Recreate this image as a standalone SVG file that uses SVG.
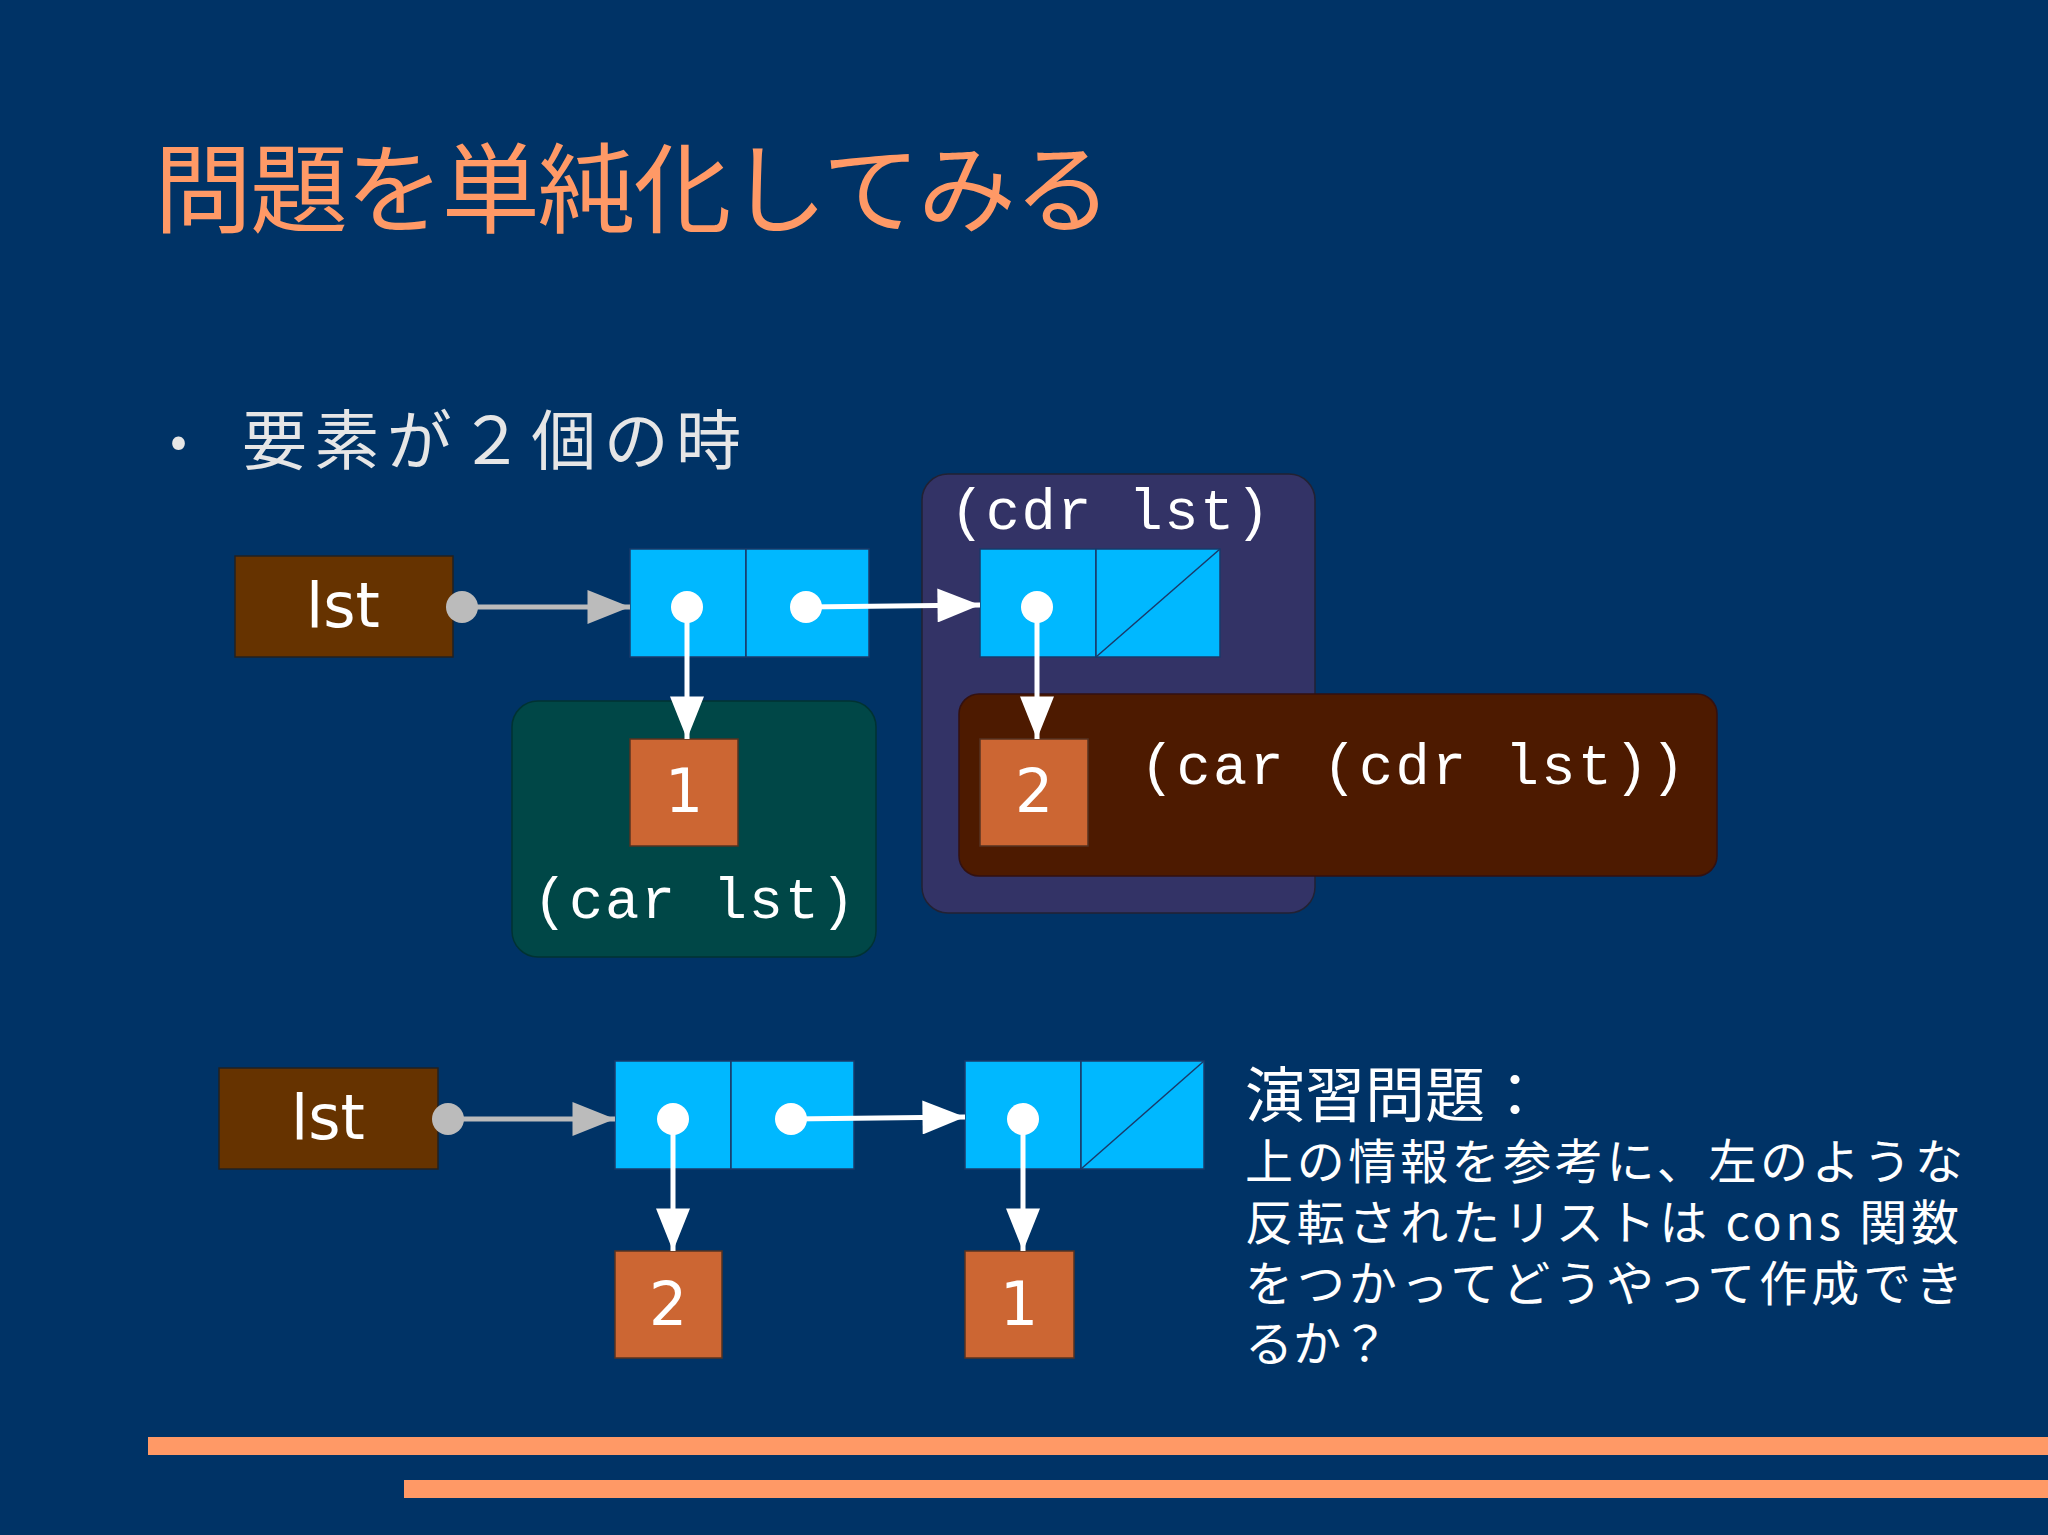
<svg xmlns="http://www.w3.org/2000/svg" width="2048" height="1535" viewBox="0 0 2048 1535">
<style>
.jp{font-family:"Noto Sans CJK JP","Noto Sans",sans-serif}
.mono{font-family:"Liberation Mono","DejaVu Sans Mono",monospace;fill:#fff}
.cell{fill:#00b8ff;stroke:#1a3a6a;stroke-width:1.5}
.val{fill:#cc6633;stroke:#553322;stroke-width:1.5}
.vt{font-family:"DejaVu Sans",sans-serif;font-size:60px;fill:#fff;text-anchor:middle}
.lst{fill:#663300;stroke:#222;stroke-width:1.5}
.lt{font-family:"DejaVu Sans",sans-serif;font-size:62px;fill:#fff;text-anchor:middle}
.dot{fill:#fff}
</style>
<defs>
<marker id="ag" viewBox="0 0 10 8" markerWidth="48" markerHeight="34" refX="10" refY="4" orient="auto" markerUnits="userSpaceOnUse"><path d="M0,0L10,4L0,8z" fill="#bbb"/></marker>
<marker id="aw2" viewBox="0 0 10 8" markerWidth="48" markerHeight="34" refX="10" refY="4" orient="auto" markerUnits="userSpaceOnUse"><path d="M0,0L10,4L0,8z" fill="#fff"/></marker>
</defs>
<rect width="2048" height="1535" fill="#003366"/>
<text x="154" y="225" class="jp" font-size="98" fill="#ff9966" textLength="958">問題を単純化してみる</text>
<text x="170" y="458" class="jp" font-size="50" fill="#e6e6e6">•</text>
<text x="242" y="464" class="jp" font-size="65" fill="#e6e6e6" textLength="499">要素が２個の時</text>

<g id="cdrbox"><rect x="922" y="474" width="393" height="439" rx="26" fill="#333366" stroke="#223" stroke-width="1.5"/>
<text x="950" y="529" class="mono" font-size="57" textLength="320">(cdr lst)</text></g>
<g id="carbox"><rect x="512" y="701" width="364" height="256" rx="26" fill="#004747" stroke="#033" stroke-width="1.5"/>
<text x="533" y="918" class="mono" font-size="57" textLength="322">(car lst)</text></g>
<g id="carcdrbox"><rect x="959" y="694" width="758" height="182" rx="20" fill="#4d1a00" stroke="#311" stroke-width="1.5"/>
<text x="1140" y="784" class="mono" font-size="57" textLength="545">(car (cdr lst))</text></g>

<g id="lst1"><rect class="lst" x="235" y="556" width="218" height="101"/><text class="lt" x="343" y="627">lst</text></g>
<g id="cell1"><rect class="cell" x="630" y="549" width="116" height="108"/><rect class="cell" x="746" y="549" width="123" height="108"/></g>
<g id="cell2"><rect class="cell" x="980" y="549" width="116" height="108"/><rect class="cell" x="1096" y="549" width="124" height="108"/><line x1="1096" y1="657" x2="1220" y2="549" stroke="#1a3a6a" stroke-width="1.5"/></g>
<g id="v1"><rect class="val" x="630" y="739" width="108" height="107"/><text class="vt" x="684" y="812">1</text></g>
<g id="v2"><rect class="val" x="980" y="739" width="108" height="107"/><text class="vt" x="1034" y="812">2</text></g>

<g id="lst2"><rect class="lst" x="219" y="1068" width="219" height="101"/><text class="lt" x="328" y="1139">lst</text></g>
<g id="cell3"><rect class="cell" x="615" y="1061" width="116" height="108"/><rect class="cell" x="731" y="1061" width="123" height="108"/></g>
<g id="cell4"><rect class="cell" x="965" y="1061" width="116" height="108"/><rect class="cell" x="1081" y="1061" width="123" height="108"/><line x1="1081" y1="1169" x2="1204" y2="1061" stroke="#1a3a6a" stroke-width="1.5"/></g>
<g id="v3"><rect class="val" x="615" y="1251" width="107" height="107"/><text class="vt" x="668" y="1325">2</text></g>
<g id="v4"><rect class="val" x="965" y="1251" width="109" height="107"/><text class="vt" x="1019" y="1325">1</text></g>

<g id="connectors">
<line x1="462" y1="607" x2="630" y2="607" stroke="#bbb" stroke-width="5" marker-end="url(#ag)"/>
<line x1="806" y1="607" x2="980" y2="605" stroke="#fff" stroke-width="5" marker-end="url(#aw2)"/>
<line x1="687" y1="607" x2="687" y2="739" stroke="#fff" stroke-width="5" marker-end="url(#aw2)"/>
<line x1="1037" y1="607" x2="1037" y2="739" stroke="#fff" stroke-width="5" marker-end="url(#aw2)"/>
<line x1="448" y1="1119" x2="615" y2="1119" stroke="#bbb" stroke-width="5" marker-end="url(#ag)"/>
<line x1="791" y1="1119" x2="965" y2="1117" stroke="#fff" stroke-width="5" marker-end="url(#aw2)"/>
<line x1="673" y1="1119" x2="673" y2="1251" stroke="#fff" stroke-width="5" marker-end="url(#aw2)"/>
<line x1="1023" y1="1119" x2="1023" y2="1251" stroke="#fff" stroke-width="5" marker-end="url(#aw2)"/>
<circle cx="462" cy="607" r="16" fill="#bbb"/>
<circle class="dot" cx="687" cy="607" r="16"/><circle class="dot" cx="806" cy="607" r="16"/><circle class="dot" cx="1037" cy="607" r="16"/>
<circle cx="448" cy="1119" r="16" fill="#bbb"/>
<circle class="dot" cx="673" cy="1119" r="16"/><circle class="dot" cx="791" cy="1119" r="16"/><circle class="dot" cx="1023" cy="1119" r="16"/>
</g>

<g class="jp" fill="#fff">
<text x="1245" y="1117" font-size="60">演習問題：</text>
<text x="1245" y="1179" font-size="48" textLength="718">上の情報を参考に、左のような</text>
<text x="1245" y="1240" font-size="48" textLength="714">反転されたリストは cons 関数</text>
<text x="1245" y="1301" font-size="48" textLength="718">をつかってどうやって作成でき</text>
<text x="1245" y="1361" font-size="48">るか？</text>
</g>
<rect x="148" y="1437" width="1900" height="18" fill="#ff9966"/>
<rect x="404" y="1480" width="1644" height="18" fill="#ff9966"/>
</svg>
